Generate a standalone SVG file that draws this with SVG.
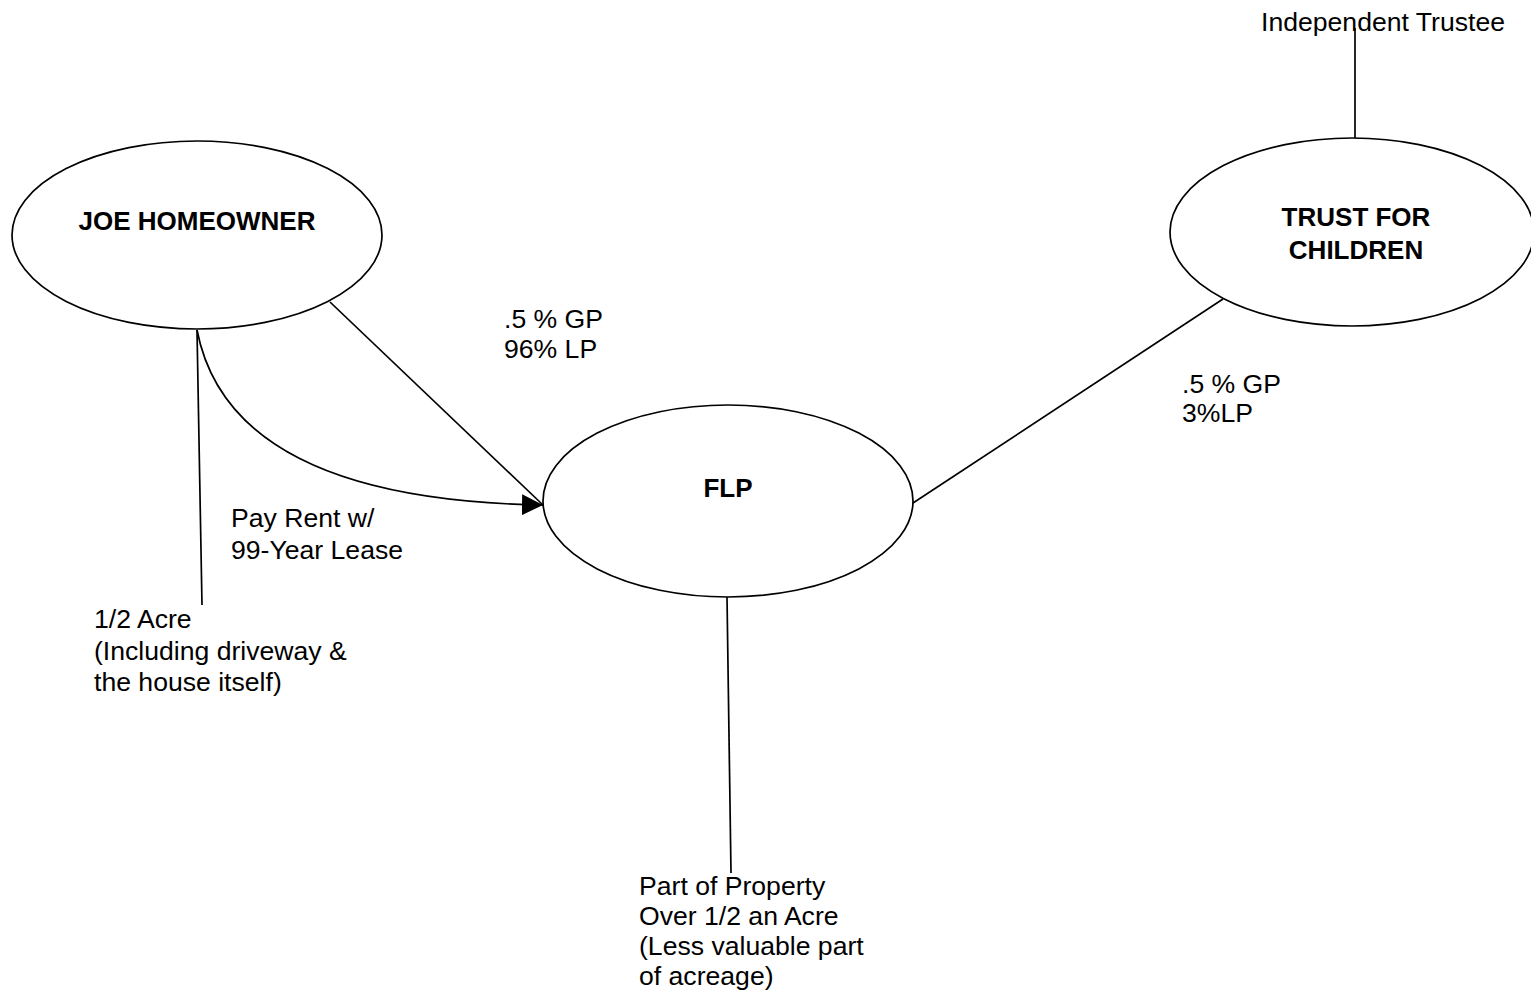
<svg xmlns="http://www.w3.org/2000/svg" width="1531" height="1002" viewBox="0 0 1531 1002">
<style>
.node{fill:#fff;stroke:#000;stroke-width:1.7}
.ln{fill:none;stroke:#000;stroke-width:1.7}
text{font-family:"Liberation Sans",Arial,sans-serif;font-size:26.6px;fill:#000}
.b{font-weight:bold;text-anchor:middle;font-size:26px}
</style>
<defs>
<marker id="arr" viewBox="0 0 20 20" refX="20" refY="10" markerWidth="21" markerHeight="21" markerUnits="userSpaceOnUse" orient="auto">
<path d="M0,0 L20,10 L0,20 Z" fill="#000"/>
</marker>
</defs>
<rect width="1531" height="1002" fill="#fff"/>
<g id="connectors">
<line class="ln" x1="1355" y1="28" x2="1355" y2="138"/>
<line class="ln" x1="330" y1="302" x2="543" y2="505"/>
<line class="ln" x1="1223" y1="299" x2="913" y2="503"/>
<line class="ln" x1="197" y1="330" x2="202" y2="605"/>
<path class="ln" d="M197,330 Q230,500 543,505" marker-end="url(#arr)"/>
<line class="ln" x1="727" y1="597" x2="731" y2="873"/>
</g>
<g id="joe">
<ellipse class="node" cx="197" cy="235" rx="185" ry="94"/>
<text class="b" x="197" y="230">JOE HOMEOWNER</text>
</g>
<g id="trust">
<ellipse class="node" cx="1352" cy="232" rx="182" ry="94"/>
<text class="b" x="1356" y="226">TRUST FOR</text>
<text class="b" x="1356" y="259">CHILDREN</text>
</g>
<g id="flp">
<ellipse class="node" cx="728" cy="501" rx="185" ry="96"/>
<text class="b" x="728" y="497">FLP</text>
</g>
<g id="labels">
<text x="1261" y="31">Independent Trustee</text>
<text x="504" y="328">.5 % GP</text>
<text x="504" y="358">96% LP</text>
<text x="1182" y="393">.5 % GP</text>
<text x="1182" y="422">3%LP</text>
<text x="231" y="527">Pay Rent w/</text>
<text x="231" y="559">99-Year Lease</text>
<text x="94" y="628">1/2 Acre</text>
<text x="94" y="660">(Including driveway &amp;</text>
<text x="94" y="691">the house itself)</text>
<text x="639" y="895">Part of Property</text>
<text x="639" y="925">Over 1/2 an Acre</text>
<text x="639" y="955">(Less valuable part</text>
<text x="639" y="985">of acreage)</text>
</g>
</svg>
